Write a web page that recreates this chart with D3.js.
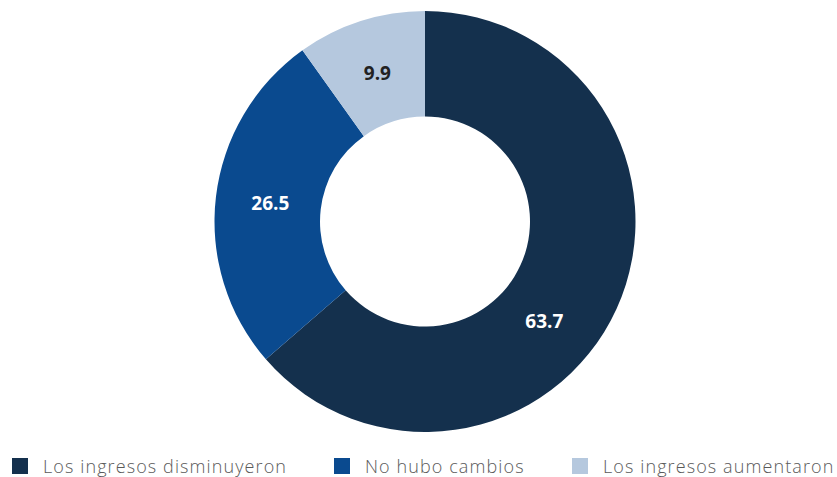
<!DOCTYPE html>
<html>
<head>
<meta charset="utf-8">
<script src="https://cdn.jsdelivr.net/npm/d3@7"></script>
<style>
  body { margin: 0; background: #fff; }
  svg { display: block; }
</style>
</head>
<body>
<svg width="837" height="477"></svg>
<script>
// categories and values
const categories = ["Los ingresos disminuyeron", "No hubo cambios", "Los ingresos aumentaron"];
const values = [63.7, 26.5, 9.9];
const colors = ["#14304d", "#0a4a8f", "#b5c8de"];
const labelColors = ["#ffffff", "#ffffff", "#222222"];

var svg = d3.select("svg");
var cx = 425, cy = 221.5;
var outer = 210.5, inner = 105;

var pie = d3.pie().sort(null).value(d => d);
var arc = d3.arc().innerRadius(inner).outerRadius(outer);

var g = svg.append("g").attr("transform", "translate(" + cx + "," + cy + ")");
var slices = pie(values);

g.selectAll("path")
  .data(slices)
  .enter().append("path")
  .attr("d", arc)
  .attr("fill", (d, i) => colors[i]);

// the big slice label sits a bit lower than the centroid in the original
var labelTurn = [0.27, 0, 0];
g.selectAll("text")
  .data(slices)
  .enter().append("text")
  .attr("transform", function(d, i) {
    var a = (d.startAngle + d.endAngle) / 2 + labelTurn[i];
    var r = (inner + outer) / 2 - 2;
    return "translate(" + (r * Math.sin(a)) + "," + (-r * Math.cos(a)) + ")";
  })
  .attr("text-anchor", "middle")
  .attr("dy", "0.35em")
  .attr("font-family", "'Open Sans', sans-serif")
  .attr("font-weight", 700)
  .attr("font-size", 19)
  .attr("fill", (d, i) => labelColors[i])
  .text(d => d.data.toFixed(1));

// legend
var legendX = [12, 334, 572];
var legend = svg.append("g");
categories.forEach(function(c, i) {
  legend.append("rect")
    .attr("x", legendX[i]).attr("y", 458)
    .attr("width", 16).attr("height", 16)
    .attr("fill", colors[i]);
  legend.append("text")
    .attr("x", legendX[i] + 31).attr("y", 473)
    .attr("font-family", "'Open Sans', sans-serif")
    .attr("font-weight", 300)
    .attr("font-size", 18)
    .attr("letter-spacing", 1.1)
    .attr("fill", "#5a5a5a")
    .text(c);
});
</script>
</body>
</html>
